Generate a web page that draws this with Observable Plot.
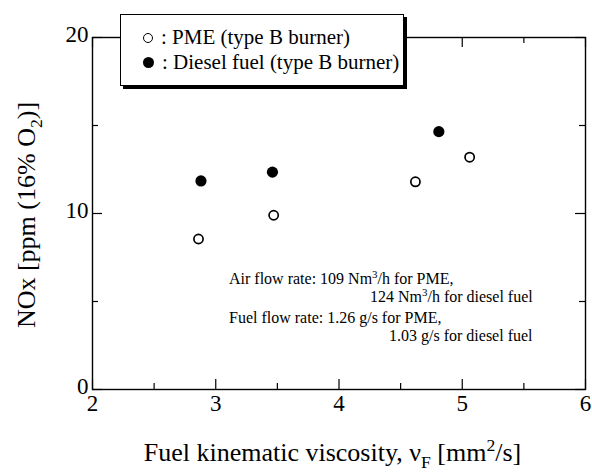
<!DOCTYPE html>
<html><head><meta charset="utf-8">
<script src="https://cdn.jsdelivr.net/npm/d3@7"></script>
<script src="https://cdn.jsdelivr.net/npm/@observablehq/plot@0.6"></script>
<style>
body{margin:0;background:#fff}
#wrap{position:relative;width:592px;height:473px;color:#000}
#legend{position:absolute;left:120px;top:14px;width:284px;height:72px;box-sizing:border-box;background:#fff;border:1.5px solid #000;box-shadow:3px 3px 0 #000;padding:10px 0 0 22px;font-size:21px;line-height:25px;white-space:nowrap}
.mk{display:inline-block;box-sizing:border-box;border-radius:50%;margin-right:8px;vertical-align:1px}
.open{width:10px;height:10px;border:1.6px solid #000;background:#fff}
.fill{width:11px;height:11px;background:#000}
</style>
</head><body><div id="wrap"></div>
<script>
// data
const series = ["PME (type B burner)", "Diesel fuel (type B burner)"];
const pmeX = [2.86, 3.47, 4.62, 5.06];
const pmeY = [8.55, 9.9, 11.8, 13.2];
const dieselX = [2.88, 3.46, 4.81];
const dieselY = [11.85, 12.35, 14.65];
const xTicks = [2, 3, 4, 5, 6];
const xMinor = [2.5, 3.5, 4.5, 5.5];
const yTicks = [0, 10, 20];
const yMinor = [5, 15];
const xTitle = ["Fuel kinematic viscosity, ν", "F", " [mm", "2", "/s]"];
const yTitle = ["NOx [ppm (16% O", "2", ")]"];
const notes = [
  ["Air flow rate: 109 Nm", "3", "/h for PME,"],
  ["124 Nm", "3", "/h for diesel fuel"],
  ["Fuel flow rate: 1.26 g/s for PME,"],
  ["1.03 g/s for diesel fuel"]
];

const FONT = '"Liberation Serif", "Times New Roman", serif';
const W = 592, H = 473;
const mL = 92, mR = 7, mT = 37, mB = 84;
const fw = W - mL - mR, fh = H - mT - mB;
const pme = pmeX.map((x, i) => ({x, y: pmeY[i]}));
const diesel = dieselX.map((x, i) => ({x, y: dieselY[i]}));
const tk = {stroke: "black", strokeWidth: 1.2};

const chart = Plot.plot({
  width: W, height: H,
  marginLeft: mL, marginRight: mR, marginTop: mT, marginBottom: mB,
  style: {fontFamily: FONT, background: "white", color: "black", overflow: "visible"},
  x: {domain: [2, 6]},
  y: {domain: [0, 20]},
  marks: [
    Plot.tickX(xTicks, {x: d => d, insetTop: fh - 10, ...tk}),
    Plot.tickX(xTicks, {x: d => d, insetBottom: fh - 10, ...tk}),
    Plot.tickX(xMinor, {x: d => d, insetTop: fh - 6, ...tk}),
    Plot.tickX(xMinor, {x: d => d, insetBottom: fh - 6, ...tk}),
    Plot.tickY(yTicks, {y: d => d, insetRight: fw - 10, ...tk}),
    Plot.tickY(yTicks, {y: d => d, insetLeft: fw - 10, ...tk}),
    Plot.tickY(yMinor, {y: d => d, insetRight: fw - 6, ...tk}),
    Plot.tickY(yMinor, {y: d => d, insetLeft: fw - 6, ...tk}),
    Plot.frame({stroke: "black", strokeWidth: 1.4}),
    Plot.axisX(xTicks, {tickSize: 0, tickPadding: 5, fontSize: 23, fontFamily: FONT, label: null, fill: "black", tickFormat: d => String(d)}),
    Plot.axisY(yTicks, {tickSize: 0, tickPadding: 4, fontSize: 23, fontFamily: FONT, label: null, dy: -3, fill: "black", tickFormat: d => String(d)}),
    Plot.dot(pme, {x: "x", y: "y", r: 4.6, stroke: "black", strokeWidth: 1.7, fill: "white"}),
    Plot.dot(diesel, {x: "x", y: "y", r: 5.6, fill: "black", stroke: "none"})
  ]
});

const svg = d3.select(chart);
function addText(parts, attrs, subIdx, supIdx, fs) {
  const t = svg.append("text").attr("fill", "black").attr("font-size", fs)
    .attr("font-family", FONT).attr("text-anchor", "start");
  for (const [k, v] of Object.entries(attrs)) t.attr(k, v);
  let shift = 0;
  parts.forEach((p, i) => {
    let target = 0, size = fs;
    if (subIdx.includes(i)) { target = fs * 0.25; size = fs * 0.68; }
    if (supIdx.includes(i)) { target = -fs * 0.4; size = fs * 0.68; }
    t.append("tspan").attr("dy", target - shift).attr("font-size", size).text(p);
    shift = target;
  });
  return t;
}
// axis titles
addText(xTitle, {x: mL + fw / 2 - 6, y: 461, "text-anchor": "middle"}, [1], [3], 26);
addText(yTitle, {transform: `translate(35,${mT + fh / 2 + 2}) rotate(-90)`, "text-anchor": "middle"}, [1], [], 26);
// annotation
const noteX = [229, 370, 229, 389];
const noteY = [284, 302, 323, 341];
notes.forEach((n, i) => addText(n, {x: noteX[i], y: noteY[i]}, [], n.length > 1 ? [1] : [], 16));

const wrap = document.getElementById("wrap");
wrap.appendChild(chart);
const leg = document.createElement("div");
leg.id = "legend";
leg.style.fontFamily = FONT;
leg.innerHTML = `<div><span class="mk open"></span>: ${series[0]}</div><div><span class="mk fill"></span>: ${series[1]}</div>`;
wrap.appendChild(leg);
</script>
</body></html>
